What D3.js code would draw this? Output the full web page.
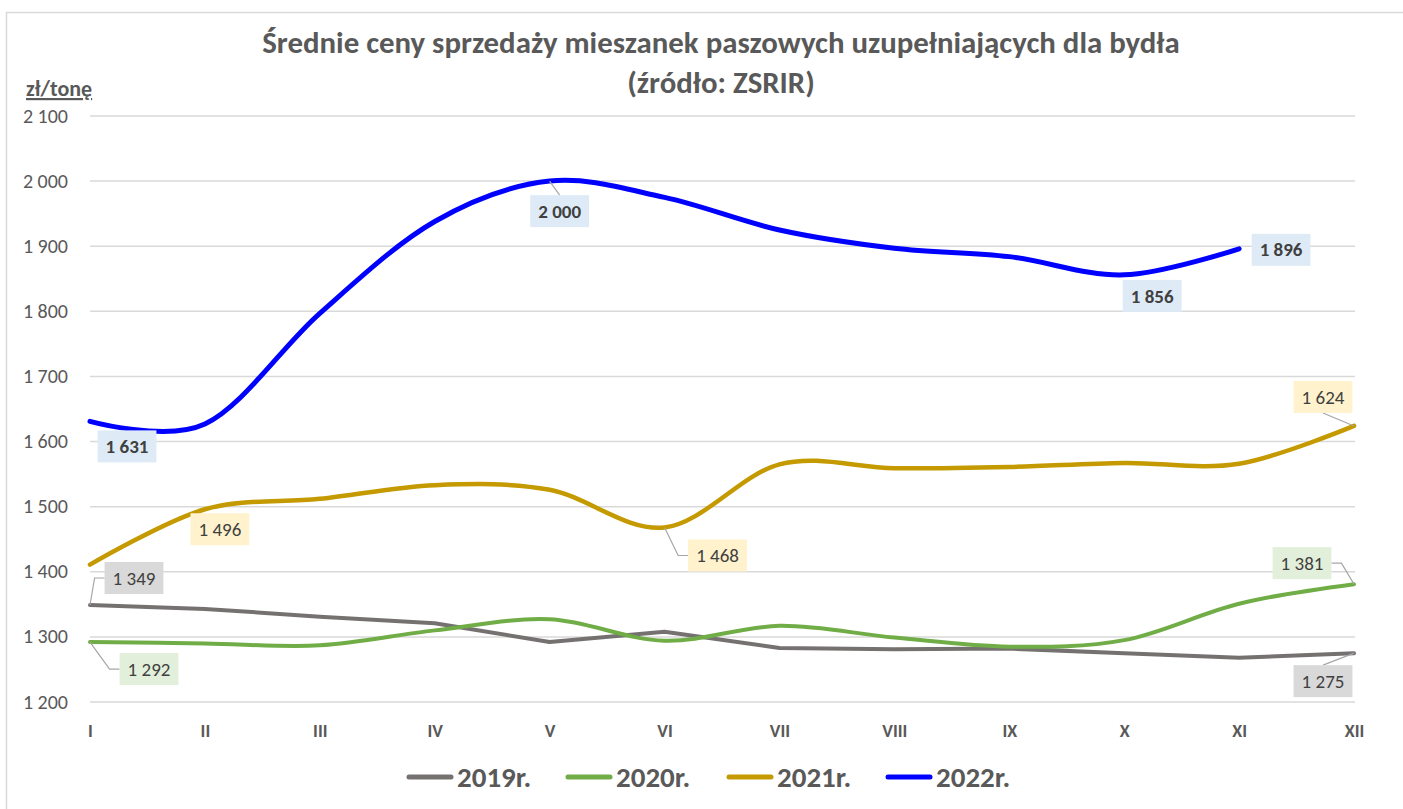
<!DOCTYPE html>
<html>
<head>
<meta charset="utf-8">
<script src="https://cdn.jsdelivr.net/npm/d3@7"></script>
<style>
  body { margin: 0; background: #fff; }
  svg { display: block; }
</style>
</head>
<body>
<div id="chart"></div>
<script>
// data
var months = ['I', 'II', 'III', 'IV', 'V', 'VI', 'VII', 'VIII', 'IX', 'X', 'XI', 'XII'];
var seriesNames = ['2019r.', '2020r.', '2021r.', '2022r.'];
var values2019 = [1349, 1343, 1331, 1321, 1292, 1308, 1283, 1281, 1282, 1275, 1268, 1275];
var values2020 = [1292, 1290, 1287, 1310, 1327, 1294, 1317, 1299, 1285, 1295, 1351, 1381];
var values2021 = [1411, 1496, 1512, 1533, 1526, 1468, 1565, 1559, 1561, 1567, 1566, 1624];
var values2022 = [1631, 1627, 1797, 1938, 2000, 1975, 1925, 1897, 1884, 1856, 1896, null];
var yTicks = [1200, 1300, 1400, 1500, 1600, 1700, 1800, 1900, 2000, 2100];

var width = 1403;
var height = 809;

var x_left = 90, x_right = 1354;
var y_bottom = 702, y_top = 116;

var pl = d3.formatLocale({decimal: ',', thousands: '\u00a0', grouping: [3], currency: ['', '']});
var fmt = pl.format(',d');

var series = [
    {name: seriesNames[0], values: values2019, color: '#767171', width: 4, smooth: false, box: '#d9d9d9', bold: false},
    {name: seriesNames[1], values: values2020, color: '#70ad47', width: 4, smooth: true, box: '#e2efda', bold: false},
    {name: seriesNames[2], values: values2021, color: '#c49a00', width: 4.5, smooth: true, box: '#fff2cc', bold: false},
    {name: seriesNames[3], values: values2022, color: '#0000ff', width: 5, smooth: true, box: '#deebf7', bold: true}
];

// data label placement: series index, month index, box centre offset, leader type
var labels = [
    {s: 3, i: 0, dx: 37, dy: 25, leader: 'none'},
    {s: 3, i: 4, dx: 10, dy: 30, leader: 'top'},
    {s: 3, i: 9, dx: 28, dy: 21, leader: 'none'},
    {s: 3, i: 10, dx: 42, dy: 1, leader: 'none'},
    {s: 2, i: 1, dx: 15, dy: 20, leader: 'none'},
    {s: 2, i: 5, dx: 53, dy: 28, leader: 'elbow'},
    {s: 2, i: 11, dx: -31, dy: -29, leader: 'bottom'},
    {s: 1, i: 0, dx: 59, dy: 27, leader: 'elbow'},
    {s: 1, i: 11, dx: -52, dy: -21, leader: 'elbow'},
    {s: 0, i: 0, dx: 44, dy: -27, leader: 'elbow'},
    {s: 0, i: 11, dx: -31, dy: 28, leader: 'top'}
];

var font = 'Calibri, Lato, "Open Sans", sans-serif';

var svg = d3.select('#chart')
  .append('svg')
    .attr('width', width)
    .attr('height', height)
    .style('font-family', font);

// chart border
svg.append('rect')
    .attr('x', 6.5)
    .attr('y', 12.5)
    .attr('width', width + 20)
    .attr('height', height + 20)
    .attr('fill', 'none')
    .attr('stroke', '#d9d9d9')
    .attr('stroke-width', 1.5);

var x = d3.scalePoint()
    .domain(months)
    .range([x_left, x_right]);

var y = d3.scaleLinear()
    .domain([1200, 2100])
    .range([y_bottom, y_top]);

// y grid lines
svg.append('g')
    .selectAll('line.y-grid')
    .data(yTicks)
  .enter()
    .append('line')
    .attr('class', 'y-grid')
    .attr('x1', x_left)
    .attr('x2', x_right + 1)
    .attr('y1', function(d) { return y(d); })
    .attr('y2', function(d) { return y(d); })
    .attr('stroke', '#d9d9d9')
    .attr('stroke-width', 1.5);

// y labels
var yAxis = d3.axisLeft(y).tickValues(yTicks).tickFormat(fmt).tickSize(0).tickPadding(0);
var gy = svg.append('g')
    .attr('transform', 'translate(68,0)')
    .call(yAxis);
gy.select('.domain').remove();
gy.selectAll('text')
    .attr('font-family', font)
    .attr('font-size', '20px')
    .attr('fill', '#595959')
    .attr('dy', '0.3em');

// x labels
var xAxis = d3.axisBottom(x).tickSize(0).tickPadding(0);
var gx = svg.append('g')
    .attr('transform', 'translate(0,737)')
    .call(xAxis);
gx.select('.domain').remove();
gx.selectAll('text')
    .attr('font-family', font)
    .attr('font-size', '18px')
    .attr('font-weight', 'bold')
    .attr('fill', '#595959')
    .attr('dy', 0);

// lines
series.forEach(function(s) {
    var line = d3.line()
        .defined(function(d) { return d != null; })
        .x(function(d, i) { return x(months[i]); })
        .y(function(d) { return y(d); })
        .curve(s.smooth ? d3.curveCatmullRom.alpha(0) : d3.curveLinear);
    svg.append('path')
        .datum(s.values)
        .attr('d', line)
        .attr('fill', 'none')
        .attr('stroke', s.color)
        .attr('stroke-width', s.width)
        .attr('stroke-linejoin', 'round')
        .attr('stroke-linecap', 'round');
});

// data labels
var gl = svg.append('g');
labels.forEach(function(l) {
    var s = series[l.s];
    var v = s.values[l.i];
    var px = x(months[l.i]);
    var py = y(v);
    var cx = px + l.dx;
    var cy = py + l.dy;

    var t = gl.append('text')
        .text(fmt(v))
        .attr('x', cx)
        .attr('y', cy)
        .attr('dy', '0.35em')
        .attr('text-anchor', 'middle')
        .attr('font-size', '19px')
        .attr('font-weight', s.bold ? 'bold' : 'normal')
        .attr('fill', '#404040');
    var tw = t.node().getComputedTextLength();
    var bw = tw + 16, bh = 32;
    gl.insert('rect', function() { return t.node(); })
        .attr('x', cx - bw / 2)
        .attr('y', cy - bh / 2)
        .attr('width', bw)
        .attr('height', bh)
        .attr('fill', s.box);

    var pts = null;
    if (l.leader == 'elbow') {
        var edge = l.dx > 0 ? cx - bw / 2 : cx + bw / 2;
        var knee = l.dx > 0 ? edge - 10 : edge + 10;
        pts = [[px, py], [knee, cy], [edge, cy]];
    }
    else if (l.leader == 'top') {
        pts = [[px, py], [cx, cy - bh / 2]];
    }
    else if (l.leader == 'bottom') {
        pts = [[px, py], [cx, cy + bh / 2]];
    }
    if (pts) {
        gl.insert('path', 'rect')
            .attr('d', d3.line()(pts))
            .attr('fill', 'none')
            .attr('stroke', '#a6a6a6')
            .attr('stroke-width', 1.2);
    }
});

// title
var title = svg.append('g')
    .attr('font-weight', 'bold')
    .attr('fill', '#595959')
    .attr('text-anchor', 'middle');
var t1 = title.append('text')
    .text('Średnie ceny sprzedaży mieszanek paszowych uzupełniających dla bydła')
    .attr('x', 721)
    .attr('y', 53)
    .attr('font-size', '26px');
var fs = 26 * 918 / t1.node().getComputedTextLength();
t1.attr('font-size', fs + 'px');
title.append('text')
    .text('(źródło: ZSRIR)')
    .attr('x', 721)
    .attr('y', 93)
    .attr('font-size', fs + 'px');

// unit label
svg.append('text')
    .text('zł/tonę')
    .attr('x', 26)
    .attr('y', 96)
    .attr('font-size', '22px')
    .attr('font-weight', 'bold')
    .attr('fill', '#595959')
    .attr('text-decoration', 'underline');

// legend
var legendX = [407, 566, 727, 886];
var lg = svg.append('g');
series.forEach(function(s, i) {
    lg.append('line')
        .attr('x1', legendX[i] + 2)
        .attr('x2', legendX[i] + 44)
        .attr('y1', 777)
        .attr('y2', 777)
        .attr('stroke', s.color)
        .attr('stroke-width', 5)
        .attr('stroke-linecap', 'round');
    lg.append('text')
        .text(s.name)
        .attr('x', legendX[i] + 50)
        .attr('y', 787)
        .attr('font-size', '29px')
        .attr('font-weight', 'bold')
        .attr('fill', '#595959');
});
</script>
</body>
</html>
